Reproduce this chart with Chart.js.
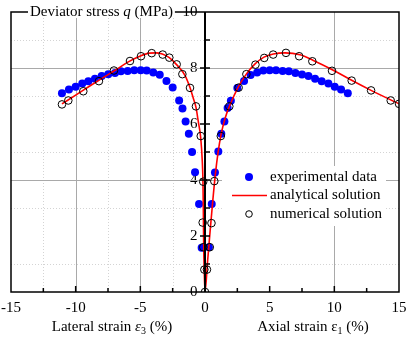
<!DOCTYPE html>
<html>
<head>
<meta charset="utf-8">
<script src="https://cdn.jsdelivr.net/npm/chart.js@4.4.1/dist/chart.umd.min.js"></script>
<style>
html, body { margin: 0; padding: 0; background: #fff; }
#wrap { width: 408px; height: 340px; position: relative; }
</style>
</head>
<body>
<div id="wrap"><canvas id="chart" width="408" height="340"></canvas></div>
<script>
// experimental data: lateral side (negative strain) then axial side
const expX = [-11.06, -10.52, -10.0, -9.49, -9.02, -8.51, -7.99, -7.48, -6.96, -6.5, -5.98, -5.47, -4.97, -4.51, -4.0, -3.5, -2.98, -2.5, -2.0, -1.74, -1.5, -1.25, -1.0, -0.77, -0.46, -0.26,
              0.3, 0.52, 0.77, 1.03, 1.26, 1.5, 1.75, 2.0, 2.5, 3.02, 3.53, 4.03, 4.51, 5.0, 5.49, 6.0, 6.48, 6.99, 7.5, 8.0, 8.51, 9.02, 9.54, 10.03, 10.52, 11.04];
const expY = [7.1, 7.23, 7.33, 7.45, 7.53, 7.62, 7.71, 7.78, 7.82, 7.88, 7.89, 7.92, 7.92, 7.91, 7.84, 7.76, 7.54, 7.3, 6.84, 6.55, 6.09, 5.65, 5.0, 4.28, 3.14, 1.58,
              1.6, 3.14, 4.27, 5.02, 5.65, 6.09, 6.57, 6.83, 7.29, 7.54, 7.75, 7.84, 7.91, 7.92, 7.92, 7.89, 7.88, 7.82, 7.77, 7.71, 7.62, 7.53, 7.45, 7.33, 7.23, 7.1];

// analytical solution curve
const anaX = [-11.06, -10, -9, -8, -7, -6, -5, -4.3, -3.8, -3.3, -2.76, -2.2, -1.55, -1.16, -0.9, -0.7, -0.52, -0.33, -0.21, -0.16, -0.13, -0.1, -0.06, 0,
              0.2, 0.4, 0.6, 0.8, 1.0, 1.24, 1.55, 1.93, 2.58, 3.22, 3.87, 4.56, 5.28, 6.19, 7.35, 8.38, 9.92, 11.34, 12.84, 15];
const anaY = [6.72, 7.03, 7.33, 7.62, 7.9, 8.2, 8.43, 8.53, 8.54, 8.5, 8.37, 8.12, 7.74, 7.3, 6.91, 6.6, 6.09, 5.5, 4.67, 4.0, 3.0, 1.6, 0.8, 0,
              1.1, 2.2, 3.25, 4.2, 4.95, 5.62, 6.2, 6.68, 7.33, 7.8, 8.15, 8.39, 8.5, 8.54, 8.47, 8.27, 7.92, 7.56, 7.2, 6.72];

// numerical solution
const numX = [-11.06, -10.57, -9.41, -8.2, -7.04, -5.8, -4.95, -4.12, -3.27, -2.76, -2.19, -1.75, -1.16, -0.7, -0.33, -0.14, -0.18, -0.13, -0.05, 0,
              0.15, 0.37, 0.5, 0.72, 1.22, 1.88, 2.6, 3.2, 3.9, 4.58, 5.27, 6.26, 7.28, 8.3, 9.82, 11.34, 12.84, 14.36, 15];
const numY = [6.7, 6.84, 7.17, 7.53, 7.91, 8.25, 8.42, 8.53, 8.48, 8.37, 8.13, 7.78, 7.29, 6.63, 5.57, 3.94, 2.48, 1.6, 0.8, 0,
              0.8, 1.6, 2.46, 3.96, 5.57, 6.63, 7.3, 7.78, 8.12, 8.36, 8.48, 8.54, 8.42, 8.24, 7.9, 7.55, 7.2, 6.84, 6.72];

const xTicks = [-15, -10, -5, 0, 5, 10, 15];
const yTicks = [0, 2, 4, 6, 8, 10];

const FONT = '"Liberation Serif", "Times New Roman", serif';
const pts = (xs, ys) => xs.map((x, i) => ({ x: x, y: ys[i] }));

// frame, grid, ticks, titles and legend
const decor = {
    id: 'decor',
    beforeDraw(chart) {
        const ctx = chart.ctx;
        ctx.save();
        ctx.fillStyle = '#fff';
        ctx.fillRect(0, 0, chart.width, chart.height);
        ctx.restore();
    },
    beforeDatasetsDraw(chart) {
        const { ctx, chartArea: a, scales: { x, y } } = chart;
        ctx.save();
        ctx.lineWidth = 1;
        // light dotted grid
        ctx.strokeStyle = '#d4d4d4';
        ctx.setLineDash([1, 2]);
        [1, 3, 5, 7, 9].forEach(v => {
            const py = Math.round(y.getPixelForValue(v)) + 0.5;
            ctx.beginPath(); ctx.moveTo(a.left, py); ctx.lineTo(a.right, py); ctx.stroke();
        });
        [-12.5, -7.5, -2.5].forEach(v => {
            const px = Math.round(x.getPixelForValue(v)) + 0.5;
            ctx.beginPath(); ctx.moveTo(px, a.top); ctx.lineTo(px, a.bottom); ctx.stroke();
        });
        // solid grid
        ctx.setLineDash([]);
        ctx.strokeStyle = '#a9a9a9';
        [4, 8].forEach(v => {
            const py = Math.round(y.getPixelForValue(v)) + 0.5;
            ctx.beginPath(); ctx.moveTo(a.left, py); ctx.lineTo(a.right, py); ctx.stroke();
        });
        [-10, -5, 10].forEach(v => {
            const px = Math.round(x.getPixelForValue(v)) + 0.5;
            ctx.beginPath(); ctx.moveTo(px, a.top); ctx.lineTo(px, a.bottom); ctx.stroke();
        });
        // legend background
        ctx.fillStyle = '#fff';
        ctx.fillRect(222, 166, 164, 60);
        ctx.restore();
    },
    afterDatasetsDraw(chart) {
        const { ctx, chartArea: a, scales: { x, y } } = chart;
        ctx.save();
        ctx.strokeStyle = '#000';
        ctx.fillStyle = '#000';

        // frame
        ctx.lineWidth = 1.5;
        ctx.strokeRect(a.left, a.top, a.right - a.left, a.bottom - a.top);

        // y axis at x = 0
        const x0 = x.getPixelForValue(0);
        ctx.lineWidth = 2;
        ctx.beginPath(); ctx.moveTo(x0, a.top); ctx.lineTo(x0, a.bottom); ctx.stroke();
        ctx.lineWidth = 1.5;
        for (let v = 1; v < 10; v++) {
            const py = y.getPixelForValue(v);
            ctx.beginPath();
            ctx.moveTo(v % 2 === 0 ? x0 - 5 : x0, py);
            ctx.lineTo(x0 + 5, py);
            ctx.stroke();
        }

        // x ticks pointing inward
        for (let v = -12.5; v < 15; v += 2.5) {
            const px = x.getPixelForValue(v);
            const len = v % 5 === 0 ? 6 : 4;
            ctx.beginPath(); ctx.moveTo(px, a.bottom); ctx.lineTo(px, a.bottom - len); ctx.stroke();
        }

        // y title on the top border
        ctx.font = '15px ' + FONT;
        ctx.textBaseline = 'middle';
        ctx.textAlign = 'left';
        const t1 = 'Deviator stress ';
        const t3 = ' (MPa)';
        const w1 = ctx.measureText(t1).width;
        const w3 = ctx.measureText(t3).width;
        ctx.font = 'italic 15px ' + FONT;
        const w2 = ctx.measureText('q').width;
        const tx = 30, ty = a.top;
        ctx.fillStyle = '#fff';
        ctx.fillRect(tx - 2, ty - 6, w1 + w2 + w3 + 4, 12);
        ctx.fillStyle = '#000';
        ctx.font = '15px ' + FONT;
        ctx.fillText(t1, tx, ty);
        ctx.font = 'italic 15px ' + FONT;
        ctx.fillText('q', tx + w1, ty);
        ctx.font = '15px ' + FONT;
        ctx.fillText(t3, tx + w1 + w2, ty);

        // x titles
        drawTitle(ctx, 'Lateral strain ', '3', true, 112, 327);
        drawTitle(ctx, 'Axial strain ', '1', false, 313, 327);

        // legend
        ctx.fillStyle = '#0000ff';
        ctx.beginPath(); ctx.arc(249, 177, 4, 0, Math.PI * 2); ctx.fill();
        ctx.strokeStyle = '#ff0000';
        ctx.lineWidth = 1.5;
        ctx.beginPath(); ctx.moveTo(232, 195.5); ctx.lineTo(267, 195.5); ctx.stroke();
        ctx.strokeStyle = '#000';
        ctx.lineWidth = 1;
        ctx.beginPath(); ctx.arc(249, 214, 3.3, 0, Math.PI * 2); ctx.stroke();
        ctx.fillStyle = '#000';
        ctx.font = '15px ' + FONT;
        ctx.textAlign = 'left';
        ctx.fillText('experimental data', 270, 177);
        ctx.fillText('analytical solution', 270, 195.5);
        ctx.fillText('numerical solution', 270, 214);
        ctx.restore();
    }
};

function drawTitle(ctx, lead, sub, italic, cx, cy) {
    ctx.save();
    ctx.textBaseline = 'middle';
    ctx.textAlign = 'left';
    ctx.fillStyle = '#000';
    const f = '15px ' + FONT;
    const fe = (italic ? 'italic ' : '') + '15px ' + FONT;
    const fs = '10px ' + FONT;
    ctx.font = f;
    const wl = ctx.measureText(lead).width;
    const wt = ctx.measureText(' (%)').width;
    ctx.font = fe;
    const we = ctx.measureText('\u03b5').width;
    ctx.font = fs;
    const ws = ctx.measureText(sub).width;
    let px = cx - (wl + we + ws + wt) / 2;
    ctx.font = f; ctx.fillText(lead, px, cy); px += wl;
    ctx.font = fe; ctx.fillText('\u03b5', px, cy); px += we;
    ctx.font = fs; ctx.fillText(sub, px, cy + 4); px += ws;
    ctx.font = f; ctx.fillText(' (%)', px, cy);
    ctx.restore();
}

new Chart(document.getElementById('chart'), {
    type: 'scatter',
    data: {
        datasets: [
            {
                label: 'numerical solution',
                data: pts(numX, numY),
                pointStyle: 'circle',
                pointRadius: 3.8,
                pointBackgroundColor: 'rgba(0,0,0,0)',
                pointBorderColor: '#000',
                pointBorderWidth: 1,
                order: 0
            },
            {
                label: 'analytical solution',
                data: pts(anaX, anaY),
                showLine: true,
                borderColor: '#ff0000',
                borderWidth: 1.6,
                pointRadius: 0,
                cubicInterpolationMode: 'monotone',
                order: 1
            },
            {
                label: 'experimental data',
                data: pts(expX, expY),
                pointRadius: 4,
                pointBackgroundColor: '#0000ff',
                pointBorderColor: '#0000ff',
                pointBorderWidth: 0,
                order: 2
            }
        ]
    },
    options: {
        responsive: false,
        animation: false,
        devicePixelRatio: 1,
        layout: { padding: { left: 11, right: 9, top: 9.5, bottom: 0 } },
        plugins: { legend: { display: false }, tooltip: { enabled: false } },
        scales: {
            x: {
                type: 'linear',
                min: -15,
                max: 15,
                position: 'bottom',
                afterBuildTicks: s => { s.ticks = xTicks.map(v => ({ value: v })); },
                afterFit: s => { s.height = 48; },
                ticks: { font: { family: FONT, size: 15 }, color: '#000', padding: 0, maxRotation: 0, autoSkip: false },
                grid: { display: false, drawTicks: true, tickLength: 7 },
                border: { display: false }
            },
            y: {
                type: 'linear',
                min: 0,
                max: 10,
                position: { x: 0 },
                afterBuildTicks: s => { s.ticks = yTicks.map(v => ({ value: v })); },
                // labels sit right-aligned on the axis; a trailing en space keeps them clear of it
                ticks: { font: { family: FONT, size: 15 }, color: '#000', autoSkip: false, callback: v => v + '\u2002' },
                grid: { display: false, drawTicks: false },
                border: { display: false }
            }
        }
    },
    plugins: [decor]
});
</script>
</body>
</html>
